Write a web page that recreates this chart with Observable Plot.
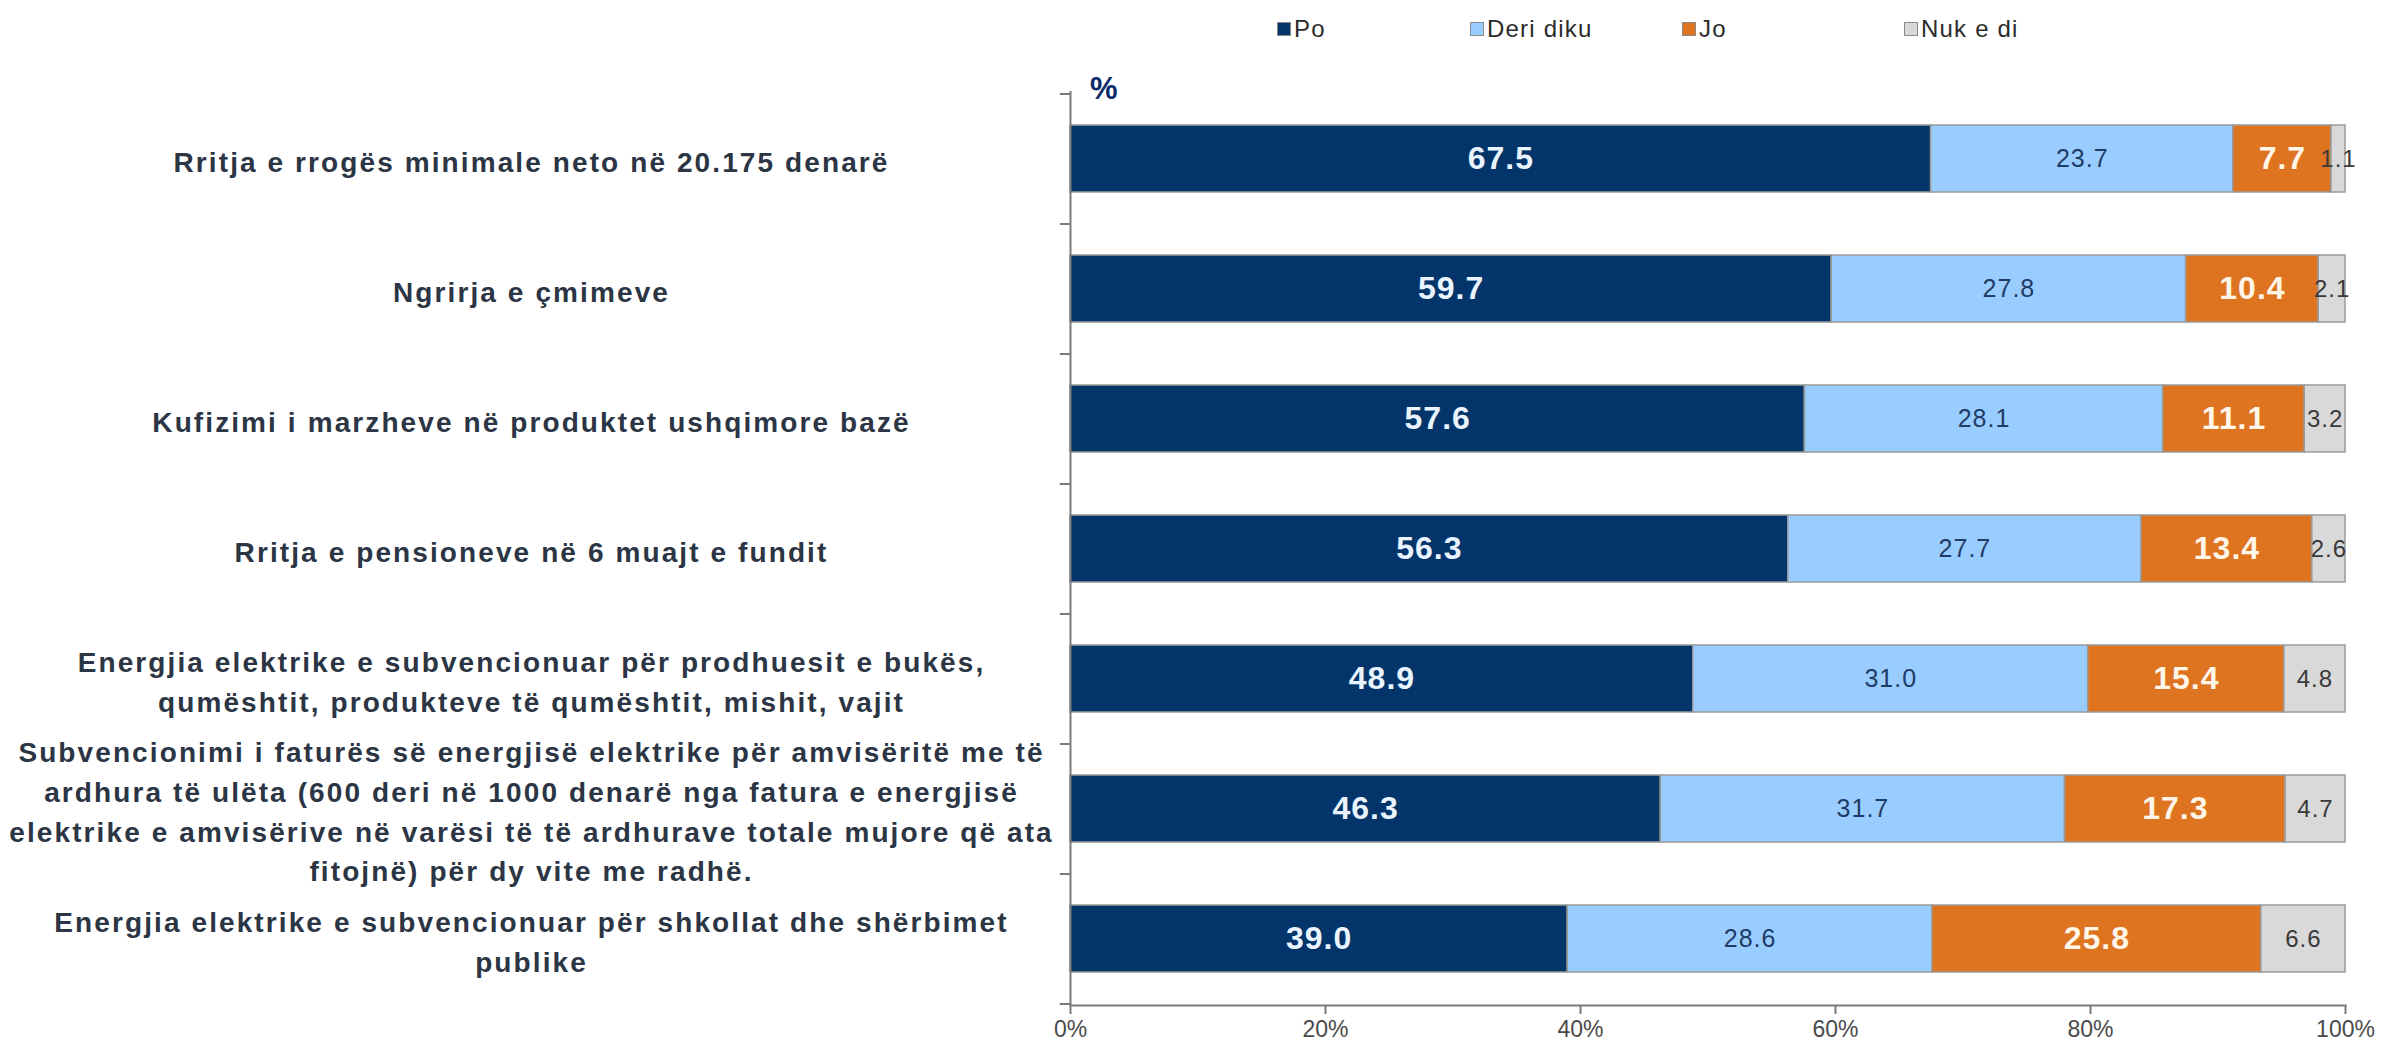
<!DOCTYPE html>
<html><head><meta charset="utf-8">
<script src="https://cdn.jsdelivr.net/npm/d3@7"></script>
<script src="https://cdn.jsdelivr.net/npm/@observablehq/plot@0.6"></script>
<style>
body{margin:0;background:#fff;font-family:"Liberation Sans",Arial,sans-serif;}
#wrap{position:relative;width:2387px;height:1054px;overflow:hidden;}
#legend{position:absolute;left:0;top:0;width:2387px;height:60px;z-index:2;}
.li{position:absolute;top:15px;font-size:24px;color:#2b2b2b;display:flex;align-items:center;letter-spacing:1.2px;}
.sw{width:12px;height:12px;border:1px solid #8a8a8a;margin-right:3px;}
#pct{position:absolute;left:1090px;top:71px;font-size:31px;font-weight:bold;color:#0b2a6b;z-index:2;}
#chart{position:absolute;left:0;top:60px;z-index:1;}
.ylab text{letter-spacing:2.1px;}
.val text{letter-spacing:1px;}
</style></head><body>
<div id="wrap">
  <div id="legend"></div>
  <div id="chart"></div>
  <div id="pct">%</div>
</div>
<script>
const categories = [
  "Rritja e rrogës minimale neto në 20.175 denarë",
  "Ngrirja e çmimeve",
  "Kufizimi i marzheve në produktet ushqimore bazë",
  "Rritja e pensioneve në 6 muajt e fundit",
  "Energjia elektrike e subvencionuar për prodhuesit e bukës,\nqumështit, produkteve të qumështit, mishit, vajit",
  "Subvencionimi i faturës së energjisë elektrike për amvisëritë me të\nardhura të ulëta (600 deri në 1000 denarë nga fatura e energjisë\nelektrike e amvisërive në varësi të të ardhurave totale mujore që ata\nfitojnë) për dy vite me radhë.",
  "Energjia elektrike e subvencionuar për shkollat dhe shërbimet\npublike"
];
const series = ["Po", "Deri diku", "Jo", "Nuk e di"];
const po       = [67.5, 59.7, 57.6, 56.3, 48.9, 46.3, 39.0];
const deriDiku = [23.7, 27.8, 28.1, 27.7, 31.0, 31.7, 28.6];
const jo       = [7.7, 10.4, 11.1, 13.4, 15.4, 17.3, 25.8];
const nukEDi   = [1.1, 2.1, 3.2, 2.6, 4.8, 4.7, 6.6];
const xTicks = [0, 0.2, 0.4, 0.6, 0.8, 1];

const colors = ["#03346a", "#99ccff", "#df7420", "#d9d9d9"];
const valueArrays = [po, deriDiku, jo, nukEDi];

const data = [];
categories.forEach((c, i) => {
  series.forEach((s, j) => data.push({category: c, series: s, value: valueArrays[j][i]}));
});

// legend
const legendLeft = [1277, 1470, 1682, 1904];
const leg = document.getElementById("legend");
series.forEach((s, j) => {
  const d = document.createElement("div");
  d.className = "li";
  d.style.left = legendLeft[j] + "px";
  d.innerHTML = `<span class="sw" style="background:${colors[j]}"></span><span>${s}</span>`;
  leg.appendChild(d);
});

const stackOpts = {offset: "normalize", x: "value", y: "category", z: "series"};
const labelStyles = [
  {fill: "#eaf4ff", fontSize: 32, fontWeight: "bold"},
  {fill: "#1f3c66", fontSize: 25, fontWeight: "normal"},
  {fill: "#fff6ea", fontSize: 32, fontWeight: "bold"},
  {fill: "#3a3a3a", fontSize: 24, fontWeight: "normal"}
];

const chart = Plot.plot({
  width: 2387,
  height: 994,
  marginLeft: 1070,
  marginRight: 42,
  marginTop: 31,
  marginBottom: 49,
  style: {fontFamily: "'Liberation Sans', Arial, sans-serif", background: "transparent"},
  x: {domain: [0, 1], ticks: xTicks, tickFormat: d3.format(".0%")},
  y: {domain: categories, paddingInner: 0.487, paddingOuter: 0.2435},
  color: {domain: series, range: colors},
  marks: [
    Plot.barX(data, Plot.stackX({...stackOpts, fill: "series", stroke: "#9a9a9a", strokeWidth: 1.5})),
    ...series.map((s, j) => Plot.text(data, Plot.stackX({
      ...stackOpts,
      text: d => d.series === s ? d.value.toFixed(1) : "",
      ...labelStyles[j],
      className: "val"
    }))),
    Plot.ruleX([0], {stroke: "#7a7a7a", strokeWidth: 2}),
    Plot.ruleY(categories, {y: d => d, x1: -0.008, x2: 0, dy: -65, stroke: "#7a7a7a", strokeWidth: 2}),
    Plot.ruleY(categories.slice(-1), {y: d => d, x1: -0.008, x2: 0, dy: 65, stroke: "#7a7a7a", strokeWidth: 2}),
    Plot.axisX({ticks: xTicks, tickFormat: d3.format(".0%"), tickSize: 9, fontSize: 23, color: "#4a4a4a", stroke: "#7a7a7a", strokeWidth: 2, tickPadding: 6, label: null}),
    Plot.frame({anchor: "bottom", stroke: "#7a7a7a", strokeWidth: 2}),
    Plot.axisY({tickSize: 0, label: null, textAnchor: "middle", dx: -530, fontSize: 28, fontWeight: "bold", fill: "#2b3544", lineHeight: 1.42, lineWidth: Infinity, className: "ylab"})
  ]
});
document.getElementById("chart").appendChild(chart);
</script>
</body></html>
